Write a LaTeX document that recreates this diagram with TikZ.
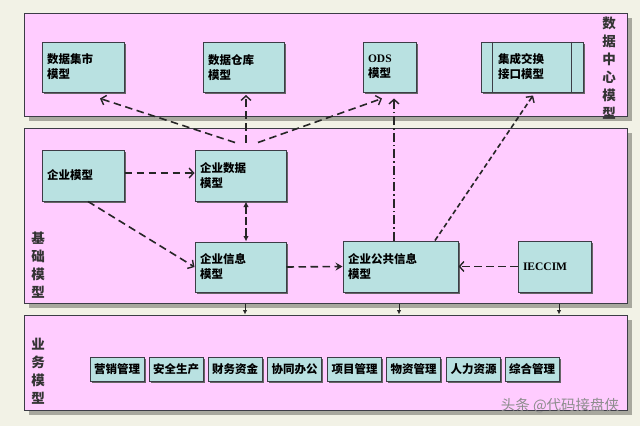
\documentclass[tikz,border=0pt]{standalone}
\usepackage{fontspec}
\setmainfont{Noto Sans CJK SC}
\newfontfamily\latserif{Liberation Serif}
\usetikzlibrary{arrows.meta,shadows}
\definecolor{bgc}{HTML}{F2F2E6}
\definecolor{panelc}{HTML}{FFCCFF}
\definecolor{boxc}{HTML}{B9E1E1}
\definecolor{edgec}{HTML}{3C3C46}
\definecolor{shadec}{HTML}{A8A89E}
\tikzset{
  panelbox/.style={draw=edgec, fill=panelc, line width=1pt, inner sep=0pt,
    drop shadow={shadow xshift=5pt, shadow yshift=-5pt, fill=shadec, opacity=1}},
  mbox/.style={draw=edgec, fill=boxc, line width=1pt, inner xsep=5pt, inner ysep=0pt,
    align=left, font=\fontsize{11.5}{15}\selectfont\bfseries,
    drop shadow={shadow xshift=1.6pt, shadow yshift=-1.6pt, fill=black!60, opacity=1}},
  sbox/.style={draw=edgec, fill=boxc, line width=1pt, inner sep=0pt,
    minimum width=54pt, minimum height=24pt, font=\fontsize{11.5}{13}\selectfont\bfseries,
    drop shadow={shadow xshift=1.6pt, shadow yshift=-1.6pt, fill=black!60, opacity=1}},
  vlabel/.style={align=center, font=\fontsize{13.5}{18}\selectfont\bfseries, text=black!80, inner sep=0pt},
  dsh/.style={line width=1.6pt, draw=black!85, dash pattern=on 7.5pt off 4.5pt},
  openhead/.style={-{Straight Barb[length=4.5pt,width=10pt,line width=1.4pt]}},
  fillhead/.style={-{Stealth[length=7pt,width=8pt,inset=2.5pt]}},
  downarr/.style={line width=0.9pt, draw=black!85, -{Latex[length=4.5pt,width=4.5pt]}}
}
\begin{document}
\begin{tikzpicture}[x=1pt,y=-1pt]
\fill[bgc] (0,0) rectangle (640,426);
\useasboundingbox (0,0) rectangle (640,426);

% panels
\node[panelbox, minimum width=603pt, minimum height=103pt] (p1) at (325.5,64.5) {};
\node[panelbox, minimum width=603pt, minimum height=175pt] (p2) at (325.5,215.5) {};
\node[panelbox, minimum width=603pt, minimum height=95pt] (p3) at (325.5,362.5) {};

% panel labels
\node[vlabel] (l1) at (609,68) {数\\据\\中\\心\\模\\型};
\node[vlabel] (l2) at (38,265) {基\\础\\模\\型};
\node[vlabel] (l3) at (38,371) {业\\务\\模\\型};

% top boxes
\node[mbox, text width=72pt, minimum height=50pt] (dm) at (83,67) {数据集市\\模型};
\node[mbox, text width=71pt, minimum height=50pt] (dw) at (243.5,67.5) {数据仓库\\模型};
\node[mbox, text width=43pt, minimum height=50pt] (ods) at (389.5,67) {{\latserif ODS}\\模型};
\node[mbox, inner xsep=17pt, text width=68pt, minimum height=50pt] (ie) at (532,67) {集成交换\\接口模型};
\draw[edgec, line width=1pt] ([xshift=12pt]ie.north west) -- ([xshift=12pt]ie.south west);
\draw[edgec, line width=1pt] ([xshift=-12pt]ie.north east) -- ([xshift=-12pt]ie.south east);

% middle boxes
\node[mbox, text width=72pt, minimum height=51pt] (em) at (83,175.5) {企业模型};
\node[mbox, text width=81pt, minimum height=51pt] (ed) at (240.5,175.5) {企业数据\\模型};
\node[mbox, text width=81pt, minimum height=50pt] (ei) at (240.5,267) {企业信息\\模型};
\node[mbox, text width=105pt, minimum height=51pt] (epi) at (400.5,266.5) {企业公共信息\\模型};
\node[mbox, text width=63pt, minimum height=51pt] (iec) at (554.5,266.5) {\latserif IECCIM};

% bottom boxes
\node[sbox] (b1) at (117,369) {营销管理};
\node[sbox] (b2) at (176,369) {安全生产};
\node[sbox] (b3) at (235,369) {财务资金};
\node[sbox] (b4) at (294.5,369) {协同办公};
\node[sbox] (b5) at (354.5,369) {项目管理};
\node[sbox] (b6) at (413.5,369) {物资管理};
\node[sbox] (b7) at (473.5,369) {人力资源};
\node[sbox] (b8) at (532,369) {综合管理};

% connectors: base -> data center
\draw[dsh, openhead] ([shift={(-5.5pt,7pt)}]ed.north) -- ([shift={(17pt,-6pt)}]dm.south);
\draw[dsh, openhead] ([shift={(5.5pt,7pt)}]ed.north) -- ([shift={(2.5pt,-2pt)}]dw.south);
\draw[dsh, openhead] ([shift={(17.5pt,7pt)}]ed.north) -- ([shift={(-7.5pt,-6pt)}]ods.south);
\draw[line width=1.6pt, draw=black!85, dash pattern=on 9pt off 3pt on 1.5pt off 3pt, openhead]
  ([xshift=-6.5pt]epi.north) -- ([shift={(4.5pt,-6pt)}]ods.south);
\draw[line width=1.6pt, draw=black!85, dash pattern=on 5pt off 3pt, openhead]
  ([xshift=34.5pt]epi.north) -- ([shift={(1pt,-3pt)}]ie.south);

% connectors inside base model
\draw[dsh, openhead] ([yshift=2.5pt]em.east) -- ([yshift=2.5pt]ed.west);
\draw[dsh, openhead] ([xshift=5pt]em.south) -- (ei.west);
\draw[line width=1.6pt, draw=black!85, dash pattern=on 8pt off 3pt,
  {Latex[length=5.5pt,width=5.5pt]}-{Latex[length=5.5pt,width=5.5pt]}]
  ([xshift=5.5pt]ed.south) -- ([xshift=5.5pt]ei.north);
\draw[dsh, fillhead] (ei.east) -- (epi.west);
\draw[dsh, openhead] (iec.west) -- (epi.east);

% base -> business
\draw[downarr] ([xshift=4.5pt]ei.south |- p2.south) -- ([xshift=4.5pt]ei.south |- p3.north);
\draw[downarr] ([xshift=-1.5pt]epi.south |- p2.south) -- ([xshift=-1.5pt]epi.south |- p3.north);
\draw[downarr] ([xshift=4.5pt]iec.south |- p2.south) -- ([xshift=4.5pt]iec.south |- p3.north);

% watermark
\node[font=\fontsize{14.5}{16}\selectfont, text=black!45, inner sep=0pt] (wm) at (560,406) {头条 @代码接盘侠};
\end{tikzpicture}
\end{document}
